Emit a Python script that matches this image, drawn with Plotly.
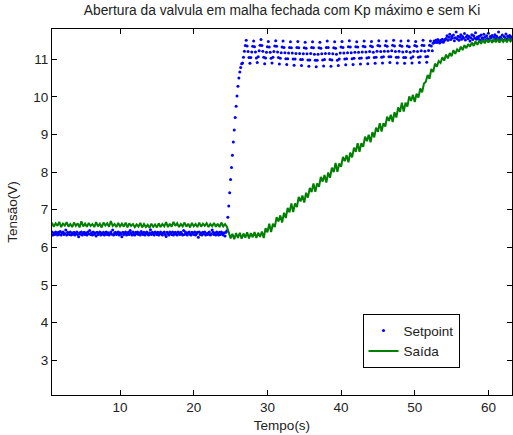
import numpy as np
import plotly.graph_objects as go

# Sampling grids (seconds)
t_start = 0.75
dt_setpoint = 0.125
dt_saida = 0.25

# Setpoint samples (V)
setpoint = [
    # initial level
    6.41, 6.33, 6.38, 6.34, 6.41, 6.36, 6.33, 6.40, 6.35, 6.42,
    6.33, 6.38, 6.41, 6.34, 6.37, 6.46, 6.33, 6.40, 6.36, 6.34,
    6.41, 6.33, 6.38, 6.35, 6.40, 6.33, 6.37, 6.41, 6.34, 6.28,
    6.39, 6.35, 6.41, 6.33, 6.37, 6.40, 6.34, 6.38, 6.33, 6.41,
    6.36, 6.45, 6.34, 6.39, 6.33, 6.41, 6.35, 6.38, 6.30, 6.40,
    6.34, 6.37, 6.41, 6.33, 6.38, 6.35, 6.40, 6.33, 6.37, 6.41,
    6.34, 6.39, 6.33, 6.36, 6.41, 6.35, 6.46, 6.33, 6.38, 6.40,
    6.34, 6.37, 6.41, 6.33, 6.39, 6.35, 6.28, 6.40, 6.34, 6.38,
    6.41, 6.33, 6.36, 6.40, 6.34, 6.45, 6.38, 6.33, 6.41, 6.35,
    6.33, 6.40, 6.36, 6.41, 6.34, 6.38, 6.33, 6.42, 6.37, 6.34,
    6.40, 6.33, 6.37, 6.41, 6.35, 6.33, 6.39, 6.47, 6.34, 6.40,
    6.36, 6.33, 6.41, 6.38, 6.34, 6.40, 6.33, 6.37, 6.41, 6.35,
    6.33, 6.39, 6.41, 6.34, 6.29, 6.40, 6.36, 6.33, 6.41, 6.38,
    6.34, 6.41, 6.33, 6.37, 6.40, 6.35, 6.33, 6.41, 6.38, 6.34,
    6.40, 6.36, 6.33, 6.45, 6.34, 6.41, 6.37, 6.33, 6.39, 6.41,
    6.35, 6.33, 6.40, 6.38, 6.34, 6.41, 6.33, 6.36, 6.40, 6.27,
    6.41, 6.34, 6.38, 6.33, 6.40, 6.36, 6.41, 6.33, 6.37, 6.34,
    6.39, 6.41, 6.33, 6.35, 6.46, 6.40, 6.34, 6.38, 6.33, 6.41,
    6.36, 6.33, 6.40, 6.34, 6.41, 6.37, 6.33, 6.39, 6.30, 6.40,
    6.44,
    # step up
    6.80, 7.10, 7.45, 7.80, 8.12, 8.45, 8.80, 9.12,
    9.45, 9.75, 10.02, 10.28, 10.50, 10.66, 10.78, 10.88,
    # oscillating plateau
    10.90, 11.05, 11.21, 11.36, 11.50, 11.35, 11.20, 11.04,
    10.89, 11.04, 11.19, 11.34, 11.48, 11.33, 11.19, 11.03,
    10.91, 11.06, 11.22, 11.37, 11.52, 11.36, 11.21, 11.05,
    10.88, 11.03, 11.18, 11.33, 11.47, 11.32, 11.18, 11.02,
    10.90, 11.05, 11.20, 11.35, 11.49, 11.34, 11.19, 11.04,
    10.87, 11.02, 11.17, 11.32, 11.48, 11.31, 11.17, 11.01,
    10.86, 11.01, 11.16, 11.31, 11.46, 11.30, 11.16, 11.00,
    10.84, 11.00, 11.15, 11.31, 11.47, 11.30, 11.15, 10.99,
    10.83, 10.99, 11.14, 11.30, 11.45, 11.29, 11.14, 10.98,
    10.81, 10.98, 11.15, 11.31, 11.46, 11.30, 11.13, 10.97,
    10.80, 10.97, 11.13, 11.30, 11.45, 11.29, 11.14, 10.98,
    10.82, 10.99, 11.15, 11.31, 11.48, 11.31, 11.15, 10.99,
    10.81, 10.98, 11.14, 11.30, 11.46, 11.29, 11.13, 10.97,
    10.83, 11.00, 11.16, 11.32, 11.47, 11.31, 11.16, 11.00,
    10.85, 11.01, 11.17, 11.33, 11.49, 11.32, 11.17, 11.01,
    10.86, 11.02, 11.18, 11.33, 11.46, 11.32, 11.18, 11.02,
    10.87, 11.03, 11.19, 11.34, 11.48, 11.33, 11.19, 11.03,
    10.88, 11.04, 11.20, 11.35, 11.47, 11.33, 11.18, 11.04,
    10.89, 11.05, 11.21, 11.36, 11.49, 11.35, 11.20, 11.05,
    10.90, 11.06, 11.21, 11.36, 11.48, 11.34, 11.21, 11.06,
    10.91, 11.06, 11.22, 11.37, 11.50, 11.35, 11.20, 11.05,
    10.90, 11.05, 11.21, 11.36, 11.48, 11.34, 11.19, 11.04,
    10.89, 11.04, 11.20, 11.35, 11.49, 11.33, 11.18, 11.03,
    10.90, 11.06, 11.21, 11.36, 11.47, 11.34, 11.20, 11.05,
    10.91, 11.06, 11.22, 11.37, 11.50, 11.36, 11.21, 11.06,
    10.92, 11.07, 11.23, 11.37, 11.48, 11.35, 11.22,
    # final level
    11.42, 11.48, 11.45, 11.50, 11.44, 11.52, 11.47, 11.43, 11.50, 11.46,
    11.53, 11.45, 11.49, 11.52,
    11.55, 11.62, 11.50, 11.58, 11.66, 11.52, 11.60, 11.56, 11.64, 11.49,
    11.57, 11.72, 11.54, 11.61, 11.50, 11.58, 11.65, 11.53, 11.60, 11.56,
    11.68, 11.51, 11.59, 11.63, 11.54, 11.60, 11.48, 11.57, 11.65, 11.52,
    11.62, 11.56, 11.70, 11.53, 11.59, 11.55, 11.61, 11.50, 11.64, 11.57,
    11.53, 11.66, 11.58, 11.51, 11.62, 11.55, 11.69, 11.52, 11.60, 11.57,
    11.63, 11.49, 11.58, 11.65, 11.54, 11.61, 11.56, 11.72, 11.52, 11.59,
    11.55, 11.64, 11.50, 11.60, 11.57, 11.67, 11.53, 11.61, 11.56, 11.63,
    11.52, 11.59, 11.58,
]

# Measured output samples (V)
saida = [
    # initial level
    6.66, 6.55, 6.64, 6.57, 6.68, 6.54, 6.63, 6.58, 6.67, 6.55,
    6.62, 6.54, 6.66, 6.57, 6.64, 6.53, 6.69, 6.56, 6.63, 6.55,
    6.65, 6.57, 6.62, 6.54, 6.67, 6.56, 6.63, 6.53, 6.66, 6.58,
    6.64, 6.55, 6.70, 6.57, 6.62, 6.54, 6.65, 6.56, 6.63, 6.55,
    6.66, 6.53, 6.64, 6.57, 6.62, 6.54, 6.61, 6.55, 6.65, 6.53,
    6.62, 6.54, 6.60, 6.52, 6.63, 6.55, 6.61, 6.53, 6.64, 6.54,
    6.62, 6.56, 6.67, 6.54, 6.63, 6.55, 6.68, 6.57, 6.64, 6.54,
    6.62, 6.56, 6.66, 6.55, 6.63, 6.53, 6.65, 6.56, 6.62, 6.54,
    6.66, 6.55, 6.63, 6.57, 6.64, 6.54, 6.62, 6.56, 6.65, 6.55,
    6.63, 6.54, 6.66, 6.56, 6.62, 6.55,
    # dip after the setpoint step
    6.40, 6.24, 6.36, 6.22, 6.38, 6.25, 6.39, 6.23, 6.37, 6.26,
    6.40, 6.24, 6.38, 6.27, 6.41, 6.25, 6.39, 6.28, 6.42,
    # ramp
    6.25, 6.51, 6.40, 6.63, 6.41, 6.63, 6.54, 6.80, 6.69, 6.85,
    6.66, 6.92, 6.78, 7.05, 6.93, 7.17, 6.94, 7.17, 7.07, 7.34,
    7.22, 7.38, 7.19, 7.45, 7.32, 7.58, 7.47, 7.70, 7.48, 7.70,
    7.61, 7.87, 7.75, 7.92, 7.72, 7.99, 7.85, 8.12, 8.00, 8.24,
    8.01, 8.23, 8.14, 8.40, 8.29, 8.45, 8.26, 8.52, 8.39, 8.65,
    8.54, 8.77, 8.54, 8.77, 8.67, 8.94, 8.82, 8.99, 8.79, 9.06,
    8.92, 9.18, 9.07, 9.30, 9.08, 9.30, 9.21, 9.47, 9.36, 9.52,
    9.33, 9.59, 9.45, 9.72, 9.60, 9.84, 9.61, 9.84, 9.74, 10.01,
    9.89, 10.05, 9.86,
    # final approach
    10.08, 9.98, 10.22, 10.12, 10.35, 10.40, 10.58, 10.48, 10.74, 10.66,
    10.88, 10.80, 10.95, 10.90, 11.05, 10.96, 11.12, 11.02, 11.16, 11.08,
    11.24, 11.14, 11.26, 11.20, 11.33, 11.24, 11.37, 11.29, 11.40, 11.33,
    11.44, 11.35, 11.47, 11.38, 11.49, 11.41, 11.51, 11.42, 11.52, 11.44,
    11.53, 11.43, 11.54, 11.45, 11.53, 11.44, 11.54, 11.46, 11.53, 11.45,
    11.54, 11.47, 11.52,
]

x_ticks = [10, 20, 30, 40, 50, 60]
y_ticks = [3, 4, 5, 6, 7, 8, 9, 10, 11]

t_sp = t_start + dt_setpoint * np.arange(len(setpoint))
t_out = t_start + dt_saida * np.arange(len(saida))

FONT = "Liberation Sans, Arial, sans-serif"
TXT = "#222"
FS = 13.5

fig = go.Figure()
fig.add_trace(go.Scatter(
    x=t_sp, y=setpoint, mode="markers", name="Setpoint",
    marker=dict(color="#0000ff", size=3, symbol="circle", line=dict(width=0)),
))
fig.add_trace(go.Scatter(
    x=t_out, y=saida, mode="lines", name="Saída",
    line=dict(color="#008000", width=2),
))

axis_common = dict(
    showgrid=False, zeroline=False, showline=True, linecolor="black",
    linewidth=1, mirror="allticks", ticks="inside", ticklen=5,
    tickcolor="black", tickfont=dict(family=FONT, size=FS, color=TXT),
)

fig.update_layout(
    width=513, height=435,
    margin=dict(l=52, r=1, t=29, b=40),
    paper_bgcolor="white", plot_bgcolor="white",
    font=dict(family=FONT, size=FS, color=TXT),
    title=dict(
        text="Abertura da valvula em malha fechada com Kp máximo e sem Ki",
        x=0.5, xref="paper", y=1, yref="container", yanchor="top", pad=dict(t=5),
        font=dict(family=FONT, size=13.8, color=TXT),
    ),
    xaxis=dict(range=[0.76, 63.2], tickvals=x_ticks,
               title=dict(text="Tempo(s)", standoff=6,
                          font=dict(family=FONT, size=FS, color=TXT)),
               **axis_common),
    yaxis=dict(range=[2.08, 11.8], tickvals=y_ticks,
               title=dict(text="Tensão(V)", standoff=12,
                          font=dict(family=FONT, size=FS, color=TXT)),
               **axis_common),
    legend=dict(
        x=0.675, y=0.221, xanchor="left", yanchor="top",
        bgcolor="white", bordercolor="black", borderwidth=1,
        font=dict(family=FONT, size=FS, color=TXT),
        tracegroupgap=0, itemsizing="trace",
    ),
    showlegend=True,
)

fig.write_html("out.html")
